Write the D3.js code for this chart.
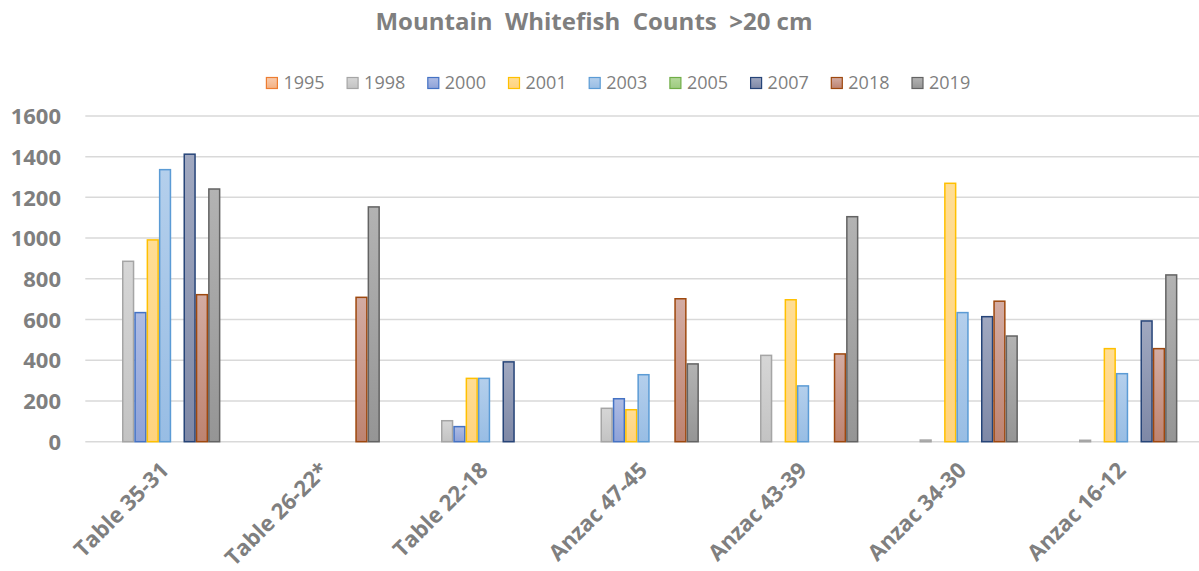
<!DOCTYPE html>
<html><head><meta charset="utf-8">
<script src="https://cdn.jsdelivr.net/npm/d3@7"></script>
<style>
html,body{margin:0;padding:0;background:#fff;}
svg text{font-family:"Open Sans",sans-serif;fill:#7F7F7F;white-space:pre;}
</style></head>
<body><svg id="c" width="1199" height="571"></svg>
<script>
const categories = ["Table 35-31","Table 26-22*","Table 22-18","Anzac 47-45","Anzac 43-39","Anzac 34-30","Anzac 16-12"];
const seriesNames = ["1995","1998","2000","2001","2003","2005","2007","2018","2019"];
const v1995 = [null,null,null,null,null,null,null];
const v1998 = [886,null,103,164,424,8,7];
const v2000 = [634,null,74,211,null,null,null];
const v2001 = [991,null,311,157,697,1269,457];
const v2003 = [1336,null,311,329,274,634,334];
const v2005 = [null,null,null,null,null,null,null];
const v2007 = [1412,null,392,null,null,614,593];
const v2018 = [722,709,null,702,431,690,457];
const v2019 = [1241,1153,null,382,1105,519,819];
const yTicks = [0,200,400,600,800,1000,1200,1400,1600];
const strokeColors = ["#ED7D31","#A5A5A5","#4472C4","#FFC000","#5B9BD5","#70AD47","#264478","#9E480E","#636363"];
const fillTop    = ["#F8CBAD","#D6D6D6","#AEBCE4","#FFDD94","#B4CFEC","#B5D99C","#A0A8C0","#D3ACA3","#B3B3B3"];
const fillBottom = ["#F4B183","#C3C3C3","#8EA2D8","#FFD37F","#98BDE4","#9DCB7F","#7E88A6","#BE8370","#959595"];

const allValues = [v1995,v1998,v2000,v2001,v2003,v2005,v2007,v2018,v2019];
const data = categories.map((c,i)=>({cat:c, vals: seriesNames.map((s,j)=>({s, j, v: allValues[j][i]}))}));

const svg = d3.select("#c");
const defs = svg.append("defs");
seriesNames.forEach((s,j)=>{
  const g = defs.append("linearGradient").attr("id","g"+j).attr("x1",0).attr("y1",0).attr("x2",0).attr("y2",1);
  g.append("stop").attr("offset","0%").attr("stop-color",fillTop[j]);
  g.append("stop").attr("offset","100%").attr("stop-color",fillBottom[j]);
});

const pLeft = 85.3, pRight = 1201.8, pTop = 115.9, pBottom = 441.7;
const x0 = d3.scaleBand().domain(categories).range([pLeft,pRight]).paddingInner(0.306).paddingOuter(0.153);
const x1 = d3.scaleBand().domain(seriesNames).range([0,x0.bandwidth()]);
const y = d3.scaleLinear().domain([0,1600]).range([pBottom,pTop]);

// gridlines
svg.append("g").selectAll("line").data(yTicks).join("line")
  .attr("x1",pLeft).attr("x2",1199).attr("y1",d=>y(d)).attr("y2",d=>y(d))
  .attr("stroke","#D9D9D9").attr("stroke-width",1.5);

// y axis labels
const yAxis = d3.axisLeft(y).tickValues(yTicks).tickFormat(d3.format("d")).tickSize(0).tickPadding(0);
const ya = svg.append("g").attr("transform","translate(61,0)").call(yAxis);
ya.select(".domain").remove();
ya.selectAll("text").attr("font-family","Open Sans").style("font-size","22px").style("font-weight","bold").attr("fill","#7F7F7F").attr("dy","0.35em");

// bars
const groups = svg.append("g").selectAll("g").data(data).join("g")
  .attr("transform",d=>`translate(${x0(d.cat)},0)`);
groups.selectAll("rect").data(d=>d.vals.filter(e=>e.v!=null)).join("rect")
  .attr("x",d=>x1(d.s)+0.75).attr("width",x1.bandwidth()-1.5)
  .attr("y",d=>y(d.v)).attr("height",d=>Math.max(0,y(0)-y(d.v)))
  .attr("fill",d=>`url(#g${d.j})`).attr("stroke",d=>strokeColors[d.j]).attr("stroke-width",1.5);

// x axis labels
const xAxis = d3.axisBottom(x0).tickSize(0).tickPadding(0);
const xa = svg.append("g").attr("transform",`translate(0,${pBottom})`).call(xAxis);
xa.select(".domain").remove();
xa.selectAll("text").attr("fill","#7F7F7F").style("font-size","22px").style("font-weight","bold")
  .attr("font-family","Open Sans")
  .attr("text-anchor","end").attr("dy",0).attr("y",0)
  .attr("transform","translate(5,30) rotate(-45)");

// title
svg.append("text").attr("x",594).attr("y",30).attr("text-anchor","middle")
  .style("font-size","24px").style("font-weight","bold").text("Mountain  Whitefish  Counts  >20 cm");

// legend
const leg = svg.append("g").selectAll("g").data(seriesNames).join("g")
  .attr("transform",(d,i)=>`translate(${266.4+i*80.7},0)`);
leg.append("rect").attr("x",0).attr("y",77.5).attr("width",11).attr("height",11)
  .attr("fill",(d,i)=>`url(#g${i})`).attr("stroke",(d,i)=>strokeColors[i]).attr("stroke-width",1.2);
leg.append("text").attr("x",17).attr("y",83).attr("dy","0.35em").style("font-size","18px").text(d=>d);
</script></body></html>
